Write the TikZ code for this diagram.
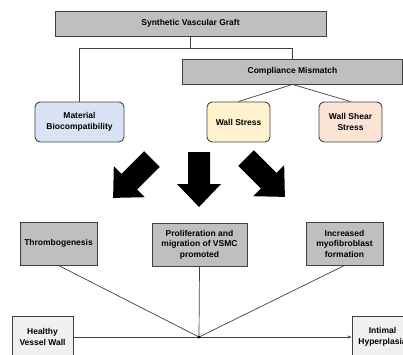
\documentclass[tikz,border=0pt]{standalone}
\usepackage{fontspec}
\setmainfont{Liberation Sans}
\usetikzlibrary{arrows.meta}
\definecolor{boxgray}{HTML}{BFBFBF}
\definecolor{palegray}{HTML}{F0F0F0}
\definecolor{paleblue}{HTML}{DAE3F3}
\definecolor{paleyellow}{HTML}{FFF2CC}
\definecolor{palepeach}{HTML}{FBE3D5}
\definecolor{linegray}{HTML}{404040}
\tikzset{
    box/.style={draw=linegray, line width=0.9pt, align=center, inner sep=0pt,
        font=\fontsize{8.5}{10.5}\selectfont\bfseries},
    graybox/.style={box, fill=boxgray},
    lightbox/.style={box, fill=palegray},
    roundbox/.style={box, rounded corners=5pt},
    link/.style={draw=linegray, line width=0.7pt},
}
\begin{document}
\begin{tikzpicture}[x=1pt,y=-1pt]
        \useasboundingbox (0,0) rectangle (403,354);
        % causes
        \node[graybox, minimum width=271, minimum height=25] (graft) at (190.5,23.5) {Synthetic Vascular Graft};
        \node[graybox, minimum width=220, minimum height=25] (mismatch) at (292.5,71.5) {Compliance Mismatch};
        \node[roundbox, fill=paleblue, minimum width=89, minimum height=40] (material) at (79.5,122) {Material\\Biocompatibility};
        \node[roundbox, fill=paleyellow, minimum width=63, minimum height=40] (wallstress) at (238.5,122) {Wall Stress};
        \node[roundbox, fill=palepeach, minimum width=63, minimum height=40] (shear) at (350.5,122) {Wall Shear\\Stress};
        \draw[link] (graft.south) -- ++(0,12) coordinate (split);
        \draw[link] (split) -| (material.north);
        \draw[link] (split) -| (mismatch.north);
        \draw[link] (mismatch.south) -- (wallstress.north);
        \draw[link] (mismatch.south) -- (shear.north);
        % block arrows
        \foreach \a/\x/\y in {-45/152/159, 0/199/152, 45/246/158} {
                \fill[black, shift={(\x,\y)}, rotate=\a] (-11,0) -- (11,0) -- (11,32) -- (22,32) -- (0,55) -- (-22,32) -- (-11,32) -- cycle;
            }
        % effects
        \node[graybox, minimum width=77, minimum height=43] (thromb) at (58.5,243.5) {Thrombogenesis};
        \node[graybox, minimum width=95, minimum height=43] (vsmc) at (199.5,244.5) {Proliferation and\\migration of VSMC\\promoted};
        \node[graybox, minimum width=77, minimum height=43] (myofib) at (344.5,243.5) {Increased\\myofibroblast\\formation};
        \node[lightbox, minimum width=61, minimum height=42] (healthy) at (42.5,337) {Healthy\\Vessel Wall};
        \node[lightbox, minimum width=61, minimum height=42] (intimal) at (382.5,337) {Intimal\\Hyperplasia};
        \coordinate (hub) at (199,337);
        \draw[link, -{Stealth[length=4pt,width=3pt]}] (healthy) -- (intimal);
        \draw[link] (thromb.south) -- (hub);
        \draw[link] (vsmc.south) -- (hub);
        \draw[link] (myofib.south) -- (hub);
        \fill[black] (hub) circle (1.5);
    \end{tikzpicture}
\end{document}
